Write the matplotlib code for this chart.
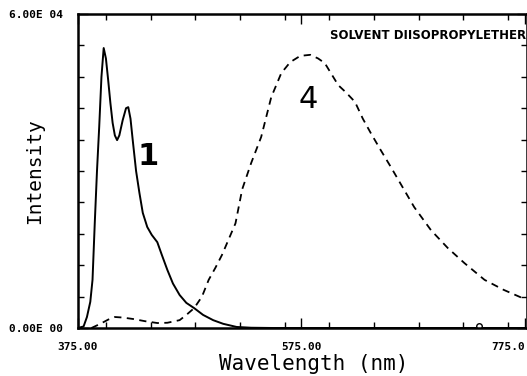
import matplotlib.pyplot as plt
from matplotlib.ticker import MultipleLocator

# curve 1 (solid)
wl_1 = [375, 380, 383, 386, 388, 390, 392, 394, 396, 398, 400, 402, 404, 406, 408,
        410, 412, 415, 418, 420, 422, 424, 427, 430, 433, 437, 441, 446, 450, 455,
        460, 466, 472, 479, 487, 496, 505, 517, 530, 550, 775]
int_1 = [0, 300, 2100, 5000, 9200, 20000, 30000, 38500, 48000, 53500, 51500, 47400,
         43000, 39200, 36800, 35900, 36800, 39700, 42000, 42200, 40000, 35900, 30000,
         25800, 22000, 19300, 17800, 16400, 14000, 11100, 8500, 6300, 4800, 3800, 2500,
         1500, 800, 200, 50, 0, 0]

# curve 4 (dashed)
wl_4 = [387, 395, 402, 408, 415, 425, 435, 446, 455, 466, 472, 479, 486, 492, 498,
        504, 510, 516, 522, 530, 539, 548, 557, 565, 574, 583, 590, 596, 602, 608,
        615, 623, 630, 637, 646, 655, 667, 676, 691, 706, 721, 739, 756, 771, 775]
int_4 = [0, 800, 1600, 2100, 2000, 1700, 1300, 950, 1000, 1500, 2500, 3800, 6000,
         9200, 11500, 14000, 17000, 20000, 26500, 31500, 36500, 44100, 48700, 50800,
         52000, 52200, 51500, 50600, 48500, 46400, 45000, 43200, 40000, 37300, 34000,
         30800, 26400, 23100, 18700, 15300, 12400, 9200, 7300, 5900, 5600]

x_ticks = [375, 575, 775]
x_tick_labels = ["375.00", "575.00", "775.0"]
y_ticks = [0, 60000]
y_tick_labels = ["0.00E 00", "6.00E 04"]

fig = plt.figure(figsize=(5.27, 3.76), dpi=100)
ax = fig.add_axes([78 / 527, 48 / 376, 449 / 527, 314 / 376])

ax.plot(wl_1, int_1, color="black", lw=1.4)
ax.plot(wl_4, int_4, color="black", lw=1.3, ls=(0, (4, 3)))
ax.plot([734], [300], marker="o", ms=4, mfc="white", mec="black", mew=1)

ax.set_xlim(375, 777)
ax.set_ylim(0, 60000)

for s in ax.spines.values():
    s.set_linewidth(1.8)

ax.set_xticks(x_ticks)
ax.set_xticklabels(x_tick_labels)
ax.set_yticks(y_ticks)
ax.set_yticklabels(y_tick_labels)
ax.xaxis.set_minor_locator(MultipleLocator(40))
ax.yaxis.set_minor_locator(MultipleLocator(6000))
ax.tick_params(which="both", direction="in", top=True, right=True)
ax.tick_params(which="major", length=7, width=1)
ax.tick_params(which="minor", length=4, width=1)
ax.tick_params(axis="x", pad=10)
ax.tick_params(axis="y", pad=11)
for lab in ax.get_xticklabels() + ax.get_yticklabels():
    lab.set_family("DejaVu Sans Mono")
    lab.set_fontweight("bold")
    lab.set_fontsize(8)
ax.get_xticklabels()[-1].set_horizontalalignment("right")

fig.text(314 / 527, 1 - 364 / 376, "Wavelength (nm)", family="DejaVu Sans Mono",
         fontsize=15, ha="center", va="center")
fig.text(35 / 527, 1 - 171 / 376, "Intensity", family="DejaVu Sans Mono",
         fontsize=14, rotation=90, ha="center", va="center")

ax.text(0.997, 0.933, "SOLVENT DIISOPROPYLETHER", transform=ax.transAxes,
        ha="right", va="center", fontsize=8.5, fontweight="heavy")
ax.text(438, 32700, "1", fontsize=22, fontweight="bold", ha="center", va="center")
ax.text(581, 43600, "4", fontsize=22, ha="center", va="center")

fig.savefig("out.png", dpi=100)
